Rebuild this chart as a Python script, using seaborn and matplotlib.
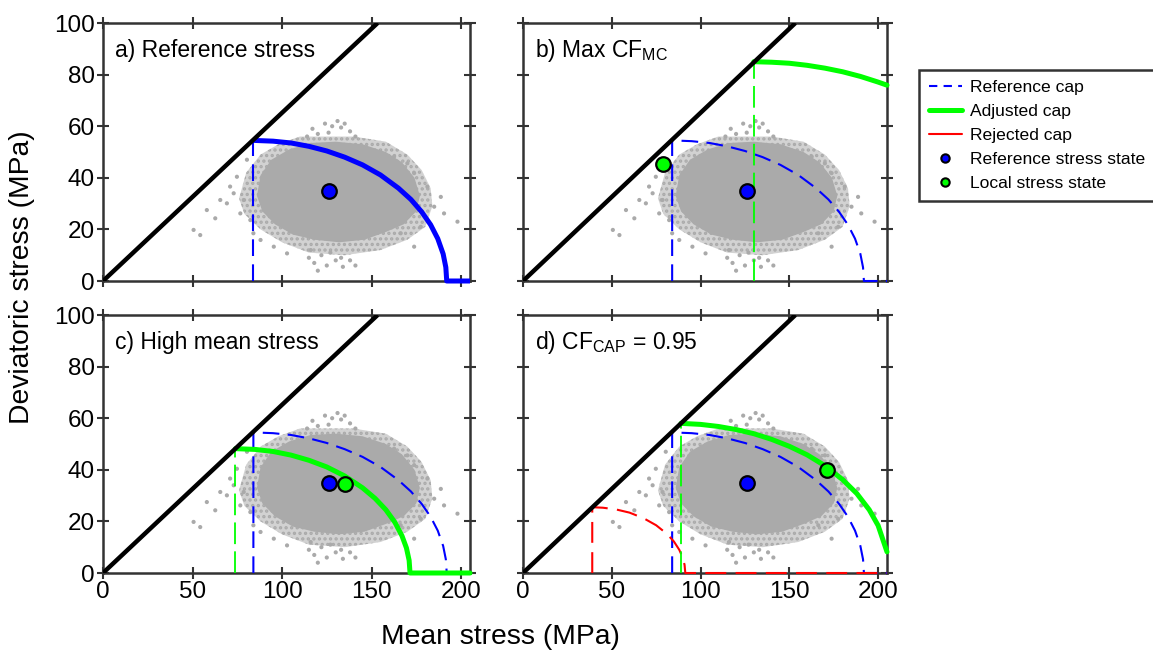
import matplotlib
matplotlib.use('Agg')
import matplotlib.pyplot as plt
import seaborn as sns
from matplotlib.lines import Line2D

# values (MPa)
ref_state = (126, 35)
local_b = (79, 45.5)
local_c = (135, 34.5)
local_d = (171, 40)

failure_x = [0, 153.4]
failure_y = [0, 100]

ref_cap_x = [84, 84, 95, 105, 115, 125, 135, 145, 155, 165, 172, 178, 183, 187, 190, 191.5, 192, 205]
ref_cap_y = [0, 54.5, 54.2, 53.5, 52.2, 50.4, 48.0, 45.0, 41.1, 36.0, 31.6, 26.8, 21.8, 16.4, 10.5, 5.3, 0, 0]

adj_b_x = [130, 130, 140, 150, 160, 170, 180, 190, 200, 205]
adj_b_y = [0, 85, 84.8, 84.4, 83.6, 82.5, 81.1, 79.3, 77.1, 75.9]

adj_c_x = [74, 74, 85, 95, 105, 115, 125, 135, 145, 152, 158, 163, 167, 169.5, 171, 171.5, 205]
adj_c_y = [0, 48.2, 47.9, 47.1, 45.7, 43.7, 41.1, 37.6, 33.0, 28.9, 24.5, 19.7, 14.4, 9.7, 4.9, 0, 0]

adj_d_x = [89, 89, 100, 110, 120, 130, 140, 150, 160, 170, 180, 188, 195, 200, 205]
adj_d_y = [0, 58, 57.6, 56.8, 55.6, 54.0, 51.8, 49.1, 45.8, 41.6, 36.2, 30.8, 24.5, 18.4, 8.2]

rej_d_x = [39, 39, 45, 52, 60, 68, 75, 81, 85, 88, 90, 91, 91.4, 205]
rej_d_y = [0, 25.5, 25.3, 24.7, 23.4, 21.2, 18.5, 15.2, 12.2, 9.0, 5.9, 3.1, 0, 0]

# outline of the dense part of the stress cloud
core_x = [86, 88, 94, 104, 116, 130, 145, 158, 167, 174, 177, 175, 168, 158, 146, 132, 118, 106, 96, 89]
core_y = [33, 41, 47, 51, 53.5, 54, 53, 50, 46, 40, 33, 27, 22, 19, 16, 15, 16, 18, 22, 27]
# outline of the sparse fringe
halo_x = [76, 80, 88, 98, 110, 140, 158, 170, 178, 183, 184, 180, 170, 155, 135, 115, 100, 88, 79]
halo_y = [32, 42, 49, 53, 56, 56, 54, 49, 43, 36, 29, 21, 16, 12, 10, 11, 15, 20, 26]
# scattered outliers and strands
dots_x = [50.6, 54.3, 58, 62.7, 65.5, 69.2, 71, 73, 74.8, 76.7, 78.6, 80.4, 82.3, 84, 88, 95.4, 102.8,
          115, 118, 122, 125, 130, 134, 138, 141, 116, 120, 127, 133,
          185, 188.7, 198, 190.5, 173.8, 166.3, 177.5, 181.2, 173.8, 170, 162.6,
          114, 117, 120, 124, 128, 131, 135, 138, 141, 126, 133]
dots_y = [19.8, 17.8, 27.5, 24.3, 31.4, 30.1, 36.6, 34, 40.4, 26.2, 31.4, 47, 23.6, 18.5, 15.9, 13.3, 10.7,
          9, 7, 10, 6, 8, 5.5, 8, 6, 12, 4, 11, 9,
          28.8, 32.6, 23, 26.2, 13.3, 18.5, 21, 36.6, 41.8, 45.6, 48.2,
          56, 59, 57, 61, 60, 62, 61, 58, 56, 57.5, 59.5]

panel_titles = ['a) Reference stress', r'b) Max CF$_{\mathregular{MC}}$',
                'c) High mean stress', r'd) CF$_{\mathregular{CAP}}$ = 0.95']
x_ticks = [0, 50, 100, 150, 200]
y_ticks = [0, 20, 40, 60, 80, 100]

BLUE = '#0000ff'
GREEN = '#00ff00'
RED = '#ff0000'
GRAY = '#aaaaaa'

sns.set_style('ticks')
plt.rcParams['font.family'] = ['Liberation Sans', 'DejaVu Sans']
plt.rcParams['mathtext.fontset'] = 'custom'
plt.rcParams['mathtext.rm'] = 'Liberation Sans'
plt.rcParams['text.color'] = 'black'
plt.rcParams['axes.labelcolor'] = 'black'
plt.rcParams['xtick.labelcolor'] = 'black'
plt.rcParams['ytick.labelcolor'] = 'black'
plt.rcParams['hatch.color'] = GRAY
plt.rcParams['hatch.linewidth'] = 1.6

fig = plt.figure(figsize=(11.53, 6.53), dpi=100)
W, H = 1153, 653
boxes = [(103, 23, 470, 281), (523, 23, 887, 281), (103, 315, 470, 573), (523, 315, 887, 573)]
axes = []
for (l, t, r, b) in boxes:
    axes.append(fig.add_axes([l / W, 1 - b / H, (r - l) / W, (b - t) / H]))


def draw_cloud(ax):
    ax.fill(halo_x, halo_y, facecolor='#d2d2d2', edgecolor='none', lw=0, zorder=1)
    ax.fill(halo_x, halo_y, facecolor='none', hatch='...', edgecolor=GRAY, lw=0, zorder=1)
    ax.fill(core_x, core_y, color=GRAY, lw=0, zorder=1)
    sns.scatterplot(x=dots_x, y=dots_y, ax=ax, s=9, color=GRAY, edgecolor='none',
                    zorder=2, legend=False)


def cap(ax, x, y, **kw):
    ax.plot(x, y, zorder=7, clip_on=False, **kw)


for ax in axes:
    draw_cloud(ax)

# a) reference cap
ax = axes[0]
cap(ax, ref_cap_x[:2], ref_cap_y[:2], color=BLUE, lw=1.5, dashes=(8, 4))
cap(ax, ref_cap_x[1:], ref_cap_y[1:], color=BLUE, lw=3.6, solid_capstyle='butt')

# b) max CF_MC
ax = axes[1]
cap(ax, ref_cap_x, ref_cap_y, color=BLUE, lw=1.5, dashes=(8, 4))
cap(ax, adj_b_x[:2], adj_b_y[:2], color=GREEN, lw=1.3, dashes=(12, 4))
cap(ax, adj_b_x[1:], adj_b_y[1:], color=GREEN, lw=3.6)

# c) high mean stress
ax = axes[2]
cap(ax, ref_cap_x, ref_cap_y, color=BLUE, lw=1.5, dashes=(8, 4))
cap(ax, adj_c_x[:2], adj_c_y[:2], color=GREEN, lw=1.3, dashes=(12, 4))
cap(ax, adj_c_x[1:], adj_c_y[1:], color=GREEN, lw=3.6)

# d) CF_CAP = 0.95
ax = axes[3]
cap(ax, ref_cap_x, ref_cap_y, color=BLUE, lw=1.5, dashes=(8, 4))
cap(ax, rej_d_x, rej_d_y, color=RED, lw=1.5, dashes=(10, 4.5))
cap(ax, adj_d_x[:2], adj_d_y[:2], color=GREEN, lw=1.3, dashes=(12, 4))
cap(ax, adj_d_x[1:], adj_d_y[1:], color=GREEN, lw=3.6)

locals_ = [None, local_b, local_c, local_d]
for i, ax in enumerate(axes):
    ax.plot(failure_x, failure_y, color='black', lw=3.2, zorder=8, solid_capstyle='butt')
    sns.scatterplot(x=[ref_state[0]], y=[ref_state[1]], ax=ax, s=110, color=BLUE,
                    edgecolor='black', linewidth=1.6, zorder=9, legend=False)
    if locals_[i] is not None:
        sns.scatterplot(x=[locals_[i][0]], y=[locals_[i][1]], ax=ax, s=110, color=GREEN,
                        edgecolor='black', linewidth=1.6, zorder=9, legend=False)
    ax.set_xlim(0, 205)
    ax.set_ylim(0, 100)
    ax.set_xticks(x_ticks)
    ax.set_yticks(y_ticks)
    ax.tick_params(direction='inout', length=8, width=1.5, color='#333333', labelsize=17.5,
                   labelcolor='black', top=True, right=True, pad=2)
    if i in (1, 3):
        ax.set_yticklabels([])
    if i in (0, 1):
        ax.set_xticklabels([])
    for sp in ax.spines.values():
        sp.set_linewidth(1.8)
        sp.set_color('#333333')
        sp.set_zorder(6)
    ax.text(0.033, 0.895, panel_titles[i], transform=ax.transAxes, fontsize=16.5,
            va='center', ha='left', zorder=10)

fig.text(0.434, 0.024, 'Mean stress (MPa)', fontsize=20.3, ha='center', va='center')
fig.text(0.019, 0.576, 'Deviatoric stress (MPa)', fontsize=20.3, ha='center', va='center',
         rotation=90)

handles = [
    Line2D([], [], color=BLUE, lw=1.5, dashes=(4, 3)),
    Line2D([], [], color=GREEN, lw=3.6),
    Line2D([], [], color=RED, lw=1.5),
    Line2D([], [], ls='none', marker='o', markersize=6, markerfacecolor=BLUE,
           markeredgecolor='black', markeredgewidth=1.5),
    Line2D([], [], ls='none', marker='o', markersize=6, markerfacecolor=GREEN,
           markeredgecolor='black', markeredgewidth=1.5),
]
labels = ['Reference cap', 'Adjusted cap', 'Rejected cap', 'Reference stress state',
          'Local stress state']
leg = fig.legend(handles, labels, loc='upper left', bbox_to_anchor=(919 / W, 1 - 70 / H),
                 fontsize=12.6, frameon=True, fancybox=False, handlelength=1.9,
                 handletextpad=0.45, labelspacing=0.5, borderpad=0.55, borderaxespad=0)
leg.get_frame().set_edgecolor('black')
leg.get_frame().set_linewidth(1.8)

fig.savefig('out.png', dpi=100)
